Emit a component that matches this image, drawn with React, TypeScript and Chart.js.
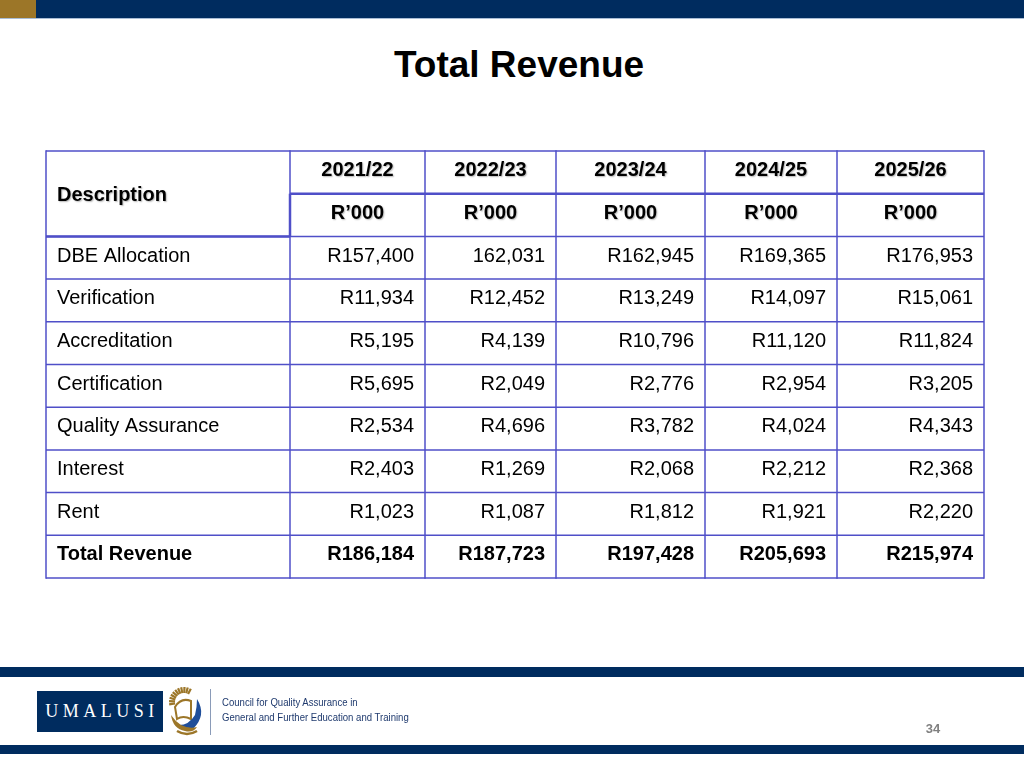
import React, { useEffect, useRef } from 'react';
import { Chart, registerables } from 'chart.js';

Chart.register(...registerables);

// ---------- data ----------
const pageTitle = 'Total Revenue';
const descriptionHeader = 'Description';
const years = ['2021/22', '2022/23', '2023/24', '2024/25', '2025/26'];
const unitLabel = 'R\u2019000';
const categories = [
  'DBE Allocation',
  'Verification',
  'Accreditation',
  'Certification',
  'Quality Assurance',
  'Interest',
  'Rent',
];
const revenue2021_22 = [157400, 11934, 5195, 5695, 2534, 2403, 1023];
const revenue2022_23 = [162031, 12452, 4139, 2049, 4696, 1269, 1087];
const revenue2023_24 = [162945, 13249, 10796, 2776, 3782, 2068, 1812];
const revenue2024_25 = [169365, 14097, 11120, 2954, 4024, 2212, 1921];
const revenue2025_26 = [176953, 15061, 11824, 3205, 4343, 2368, 2220];
const totalLabel = 'Total Revenue';
const totals = [186184, 187723, 197428, 205693, 215974];
// cells printed without the "R" prefix in the source table (row, year index)
const unprefixedCells = [{ row: 0, col: 1 }];
const orgName = 'UMALUSI';
const footerLines = ['Council for Quality Assurance in', 'General and Further Education and Training'];
const pageNumber = '34';

// ---------- layout / style ----------
const COL_WIDTHS = [244, 135, 131, 149, 132, 147];
const HEADER_ROWS = 2;
const NAVY = '#002c5f';
const GOLD = '#9c7628';
const BORDER = '#4f4fc8';
const FONT = '"Liberation Sans", Arial, sans-serif';

const colBounds: number[] = [0];
COL_WIDTHS.forEach((w) => colBounds.push(colBounds[colBounds.length - 1] + w));
const TOTAL_ROWS = HEADER_ROWS + categories.length + 1;

const fmt = (v: number, row: number, col: number) => {
  const s = v.toLocaleString('en-US');
  return unprefixedCells.some((c) => c.row === row && c.col === col) ? s : 'R' + s;
};

type Cell = {
  x: number;
  y: number;
  col: number;
  row0: number;
  row1: number;
  text: string;
  align: 'left' | 'right' | 'center';
  bold: boolean;
  shadow: boolean;
};

function buildDatasets() {
  const yearSeries = [revenue2021_22, revenue2022_23, revenue2023_24, revenue2024_25, revenue2025_26];
  const mk = (col: number, row0: number, row1: number, text: string, align: Cell['align'], bold: boolean, shadow: boolean): Cell => ({
    x: (colBounds[col] + colBounds[col + 1]) / 2,
    y: (row0 + row1) / 2,
    col,
    row0,
    row1,
    text,
    align,
    bold,
    shadow,
  });
  const descCells: Cell[] = [mk(0, 0, HEADER_ROWS, descriptionHeader, 'left', true, true)];
  categories.forEach((c, i) => descCells.push(mk(0, HEADER_ROWS + i, HEADER_ROWS + i + 1, c, 'left', false, false)));
  const tr = HEADER_ROWS + categories.length;
  descCells.push(mk(0, tr, tr + 1, totalLabel, 'left', true, false));
  const datasets: any[] = [{ label: descriptionHeader, data: descCells }];
  years.forEach((yr, yi) => {
    const col = yi + 1;
    const cells: Cell[] = [mk(col, 0, 1, yr, 'center', true, true), mk(col, 1, 2, unitLabel, 'center', true, true)];
    yearSeries[yi].forEach((v, ri) =>
      cells.push(mk(col, HEADER_ROWS + ri, HEADER_ROWS + ri + 1, fmt(v, ri, yi), 'right', false, false))
    );
    cells.push(mk(col, tr, tr + 1, 'R' + totals[yi].toLocaleString('en-US'), 'right', true, false));
    datasets.push({ label: yr, data: cells });
  });
  return datasets.map((d) => ({ ...d, pointRadius: 0, pointHoverRadius: 0, showLine: false }));
}

const tablePlugin = {
  id: 'revenueTable',
  afterDatasetsDraw(chart: any) {
    const ctx: CanvasRenderingContext2D = chart.ctx;
    const xs = chart.scales.x;
    const ys = chart.scales.y;
    const X = (v: number) => xs.getPixelForValue(v);
    const Y = (v: number) => ys.getPixelForValue(v);
    ctx.save();
    // text
    chart.data.datasets.forEach((ds: any, di: number) => {
      const meta = chart.getDatasetMeta(di);
      meta.data.forEach((pt: any, i: number) => {
        const cell: Cell = ds.data[i];
        const left = X(colBounds[cell.col]);
        const right = X(colBounds[cell.col + 1]);
        const spansHeader = cell.row1 - cell.row0 > 1;
        const baseline = pt.y + (spansHeader ? 7.5 : 3.8);
        ctx.font = (cell.bold ? 'bold ' : '') + '20px ' + FONT;
        ctx.textBaseline = 'alphabetic';
        ctx.fillStyle = '#000';
        if (cell.shadow) {
          ctx.shadowColor = 'rgba(0,0,0,0.28)';
          ctx.shadowOffsetX = 1;
          ctx.shadowOffsetY = 1;
          ctx.shadowBlur = 1.5;
        } else {
          ctx.shadowColor = 'transparent';
          ctx.shadowBlur = 0;
          ctx.shadowOffsetX = 0;
          ctx.shadowOffsetY = 0;
        }
        let tx = pt.x;
        if (cell.align === 'left') tx = left + 11;
        if (cell.align === 'right') tx = right - 11;
        ctx.textAlign = cell.align;
        ctx.fillText(cell.text, tx, baseline);
      });
    });
    ctx.shadowColor = 'transparent';
    ctx.shadowBlur = 0;
    ctx.shadowOffsetX = 0;
    ctx.shadowOffsetY = 0;
    // borders
    ctx.strokeStyle = BORDER;
    const line = (x1: number, y1: number, x2: number, y2: number, w: number) => {
      ctx.lineWidth = w;
      ctx.beginPath();
      ctx.moveTo(x1, y1);
      ctx.lineTo(x2, y2);
      ctx.stroke();
    };
    const x0 = X(colBounds[0]);
    const xEnd = X(colBounds[colBounds.length - 1]);
    const x1 = X(colBounds[1]);
    colBounds.forEach((b) => line(X(b), Y(0) - 0.75, X(b), Y(TOTAL_ROWS) + 0.75, 1.5));
    for (let r = 0; r <= TOTAL_ROWS; r++) {
      if (r === 1) continue;
      line(x0, Y(r), xEnd, Y(r), 1.5);
    }
    // emphasised header borders
    line(x1, Y(1), xEnd, Y(1), 2.5);
    line(x1, Y(1), x1, Y(2), 2.5);
    line(x0, Y(2), x1, Y(2), 2.5);
    ctx.restore();
  },
};

function TableChart() {
  const ref = useRef<HTMLCanvasElement | null>(null);
  useEffect(() => {
    if (!ref.current) return;
    const chart = new Chart(ref.current, {
      type: 'scatter',
      data: { datasets: buildDatasets() },
      options: {
        animation: false,
        responsive: false,
        events: [],
        layout: { padding: { left: 46, right: 40, top: 151, bottom: 188 } },
        plugins: { legend: { display: false }, tooltip: { enabled: false }, title: { display: false } },
        scales: {
          x: { type: 'linear', min: 0, max: colBounds[colBounds.length - 1], display: false },
          y: { type: 'linear', min: 0, max: TOTAL_ROWS, reverse: true, display: false },
        },
      },
      plugins: [tablePlugin],
    } as any);
    return () => chart.destroy();
  }, []);
  return <canvas ref={ref} width={1024} height={766} style={{ position: 'absolute', left: 0, top: 0 }} />;
}

function Emblem() {
  const rays = [];
  for (let i = 0; i < 11; i++) {
    const a = Math.PI * (0.95 + i * 0.07);
    rays.push(
      <line
        key={i}
        x1={17 + Math.cos(a) * 9}
        y1={17 + Math.sin(a) * 9}
        x2={17 + Math.cos(a) * 15}
        y2={17 + Math.sin(a) * 15}
        stroke={GOLD}
        strokeWidth={2.2}
      />
    );
  }
  return (
    <svg width={40} height={52} style={{ position: 'absolute', left: 167, top: 685 }}>
      {rays}
      <path d="M8 22 Q14 12 24 16 L24 34 Q16 30 10 34 Z" fill="#ffffff" stroke={GOLD} strokeWidth={2} />
      <path d="M30 14 Q40 30 26 44 Q18 46 12 40 Q22 40 28 30 Q30 22 30 14 Z" fill="#1f4e9a" />
      <path d="M4 30 Q6 44 18 46 Q26 48 30 42 Q22 44 14 40 Q8 36 4 30 Z" fill={GOLD} />
      <path d="M10 46 Q20 52 30 46" stroke={GOLD} strokeWidth={2.5} fill="none" />
    </svg>
  );
}

export default function App() {
  return (
    <div style={{ position: 'absolute', left: 0, top: 0, width: 1024, height: 766, background: '#fff', overflow: 'hidden' }}>
      <div style={{ position: 'absolute', left: 0, top: 0, width: 36, height: 18, background: GOLD }} />
      <div style={{ position: 'absolute', left: 36, top: 0, width: 988, height: 18, background: NAVY }} />
      <div style={{ position: 'absolute', left: 0, top: 18, width: 1024, height: 1, background: '#a9bdd6' }} />
      <div
        style={{
          position: 'absolute',
          left: 0,
          top: 40,
          width: 1038,
          textAlign: 'center',
          fontFamily: FONT,
          fontWeight: 'bold',
          fontSize: 37,
          lineHeight: '50px',
          color: '#000',
        }}
      >
        {pageTitle}
      </div>
      <TableChart />
      <div style={{ position: 'absolute', left: 0, top: 667, width: 1024, height: 10, background: NAVY }} />
      <div style={{ position: 'absolute', left: 0, top: 745, width: 1024, height: 9, background: NAVY }} />
      <div
        style={{
          position: 'absolute',
          left: 37,
          top: 691,
          width: 126,
          height: 41,
          background: NAVY,
          color: '#fff',
          fontFamily: '"Liberation Serif", "DejaVu Serif", serif',
          fontSize: 18,
          letterSpacing: 4.5,
          paddingLeft: 4,
          boxSizing: 'border-box',
          lineHeight: '41px',
          textAlign: 'center',
          whiteSpace: 'nowrap',
        }}
      >
        {orgName}
      </div>
      <Emblem />
      <div style={{ position: 'absolute', left: 210, top: 689, width: 1, height: 46, background: '#8a9bb8' }} />
      <div
        style={{
          position: 'absolute',
          left: 222,
          top: 695,
          fontFamily: FONT,
          fontSize: 11,
          lineHeight: '15px',
          color: '#1f3a6e',
          whiteSpace: 'nowrap',
          transform: 'scaleX(0.87)',
          transformOrigin: 'left top',
        }}
      >
        <div>{footerLines[0]}</div>
        <div>{footerLines[1]}</div>
      </div>
      <div
        style={{
          position: 'absolute',
          left: 918,
          top: 721,
          width: 30,
          textAlign: 'center',
          fontFamily: FONT,
          fontWeight: 'bold',
          fontSize: 13,
          color: '#808080',
        }}
      >
        {pageNumber}
      </div>
    </div>
  );
}
